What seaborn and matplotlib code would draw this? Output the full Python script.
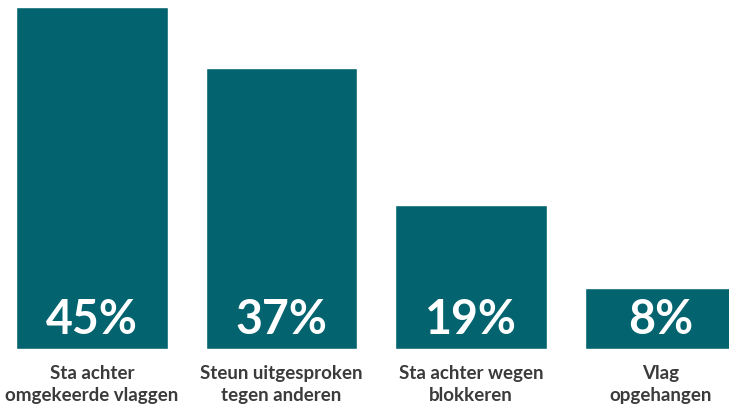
import matplotlib
matplotlib.use("Agg")
import matplotlib.pyplot as plt
import seaborn as sns
import pandas as pd

# data
categories = ["Sta achter\nomgekeerde vlaggen", "Steun uitgesproken\ntegen anderen",
              "Sta achter wegen\nblokkeren", "Vlag\nopgehangen"]
values = [45, 37, 19, 8]
value_labels = ["45%", "37%", "19%", "8%"]

df = pd.DataFrame({"categorie": categories, "pct": values})

sns.set_style("white")
plt.rcParams["font.family"] = ["Lato", "DejaVu Sans"]

fig = plt.figure(figsize=(7.29, 4.06), dpi=100)
ax = fig.add_axes([0, 56 / 406, 1, 350 / 406])

sns.barplot(data=df, x="categorie", y="pct", color="#03646F", saturation=1,
            width=0.802, ax=ax)

ax.set_xlim(-92 / 189.5, (729 - 92) / 189.5)
ax.set_ylim(0, 350 / 7.6)

# waarden onderin de balk
for i, lab in enumerate(value_labels):
    ax.text(i, 3.9, lab, ha="center", va="center", color="white",
            fontsize=33.5, fontweight="bold")

ax.set_xlabel("")
ax.set_ylabel("")
ax.set_yticks([])
ax.tick_params(axis="x", length=0, pad=11)
for t in ax.get_xticklabels():
    t.set_fontsize(13.5)
    t.set_fontweight("bold")
    t.set_color("#3b3b3b")
    t.set_linespacing(1.35)
sns.despine(ax=ax, left=True, bottom=True)

fig.savefig("out.png", dpi=100)
